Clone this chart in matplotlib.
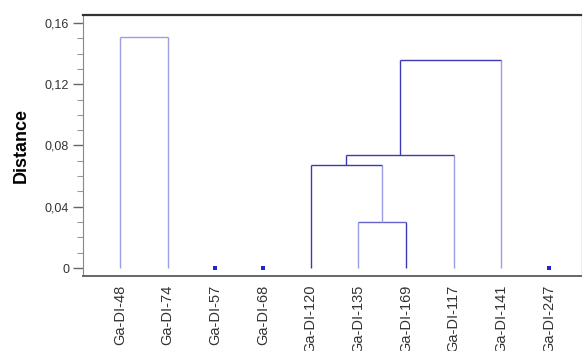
import matplotlib
matplotlib.use('Agg')
import matplotlib.pyplot as plt
from matplotlib.ticker import FixedLocator, MultipleLocator, FuncFormatter

plt.rcParams['font.family'] = ['Liberation Sans', 'DejaVu Sans']

# Leaf order along the x axis
leaves = ["Ga-DI-48", "Ga-DI-74", "Ga-DI-57", "Ga-DI-68", "Ga-DI-120",
          "Ga-DI-135", "Ga-DI-169", "Ga-DI-117", "Ga-DI-141", "Ga-DI-247"]

# Agglomeration steps: (left member, right member, joining distance)
merge_left = ["Ga-DI-48", "Ga-DI-135", "Ga-DI-120", "C3", "C4"]
merge_right = ["Ga-DI-74", "Ga-DI-169", "C2", "Ga-DI-117", "Ga-DI-141"]
merge_height = [0.151, 0.030, 0.067, 0.074, 0.136]

# Clusters that stay as single samples
singletons = ["Ga-DI-57", "Ga-DI-68", "Ga-DI-247"]

DARK = '#3a3ab4'
LIGHT = '#9d9de6'
# colour of (left leg, crossbar, right leg) for every step
link_colors = [
    (LIGHT, LIGHT, LIGHT),
    (LIGHT, '#6464cc', DARK),
    (DARK, DARK, LIGHT),
    (DARK, DARK, LIGHT),
    (DARK, DARK, LIGHT),
]

fig = plt.figure(figsize=(5.85, 3.51), dpi=100)
ax = fig.add_axes([0.1419, 0.2137, 0.8513, 0.7436])

pos = {name: i for i, name in enumerate(leaves)}
top = {name: 0.0 for name in leaves}

for k, (a, b, h) in enumerate(zip(merge_left, merge_right, merge_height)):
    ca, cm, cb = link_colors[k]
    xa, xb = pos[a], pos[b]
    ax.plot([xa, xa], [top[a], h], color=ca, lw=1.0, solid_capstyle='butt')
    ax.plot([xb, xb], [top[b], h], color=cb, lw=1.0, solid_capstyle='butt')
    ax.plot([xa, xb], [h, h], color=cm, lw=1.0, solid_capstyle='butt')
    name = "C%d" % (k + 1)
    pos[name] = (xa + xb) / 2
    top[name] = h

ax.plot([pos[s] for s in singletons], [0.0] * len(singletons), 's',
        color='#2424cc', markersize=2.6, markeredgewidth=0)

ax.set_xlim(-0.776, 9.67)
ax.set_ylim(-0.0052, 0.1652)

ax.xaxis.set_major_locator(FixedLocator(range(len(leaves))))
ax.set_xticklabels(leaves, rotation=90, fontsize=10.5, color='#333333',
                   va='top')
ax.tick_params(axis='x', length=0, pad=6)

ax.yaxis.set_major_locator(MultipleLocator(0.04))
ax.yaxis.set_minor_locator(MultipleLocator(0.01))
ax.yaxis.set_major_formatter(FuncFormatter(
    lambda v, p: "0" if abs(v) < 1e-9 else ("%.2f" % v).replace('.', ',')))
ax.tick_params(axis='y', which='major', length=7, width=1.0,
               color='#666666', labelsize=9, labelcolor='#333333', pad=3)
ax.tick_params(axis='y', which='minor', length=4, width=0.8,
               color='#999999')

ax.set_ylabel("Distance", fontsize=13, fontweight='bold', labelpad=11)

ax.spines['top'].set_color('#333333')
ax.spines['top'].set_linewidth(1.6)
ax.spines['bottom'].set_color('#666666')
ax.spines['bottom'].set_linewidth(1.4)
ax.spines['left'].set_color('#888888')
ax.spines['left'].set_linewidth(0.8)
ax.spines['right'].set_color('#eeeeee')
ax.spines['right'].set_linewidth(0.8)

fig.savefig('out.png', dpi=100)
